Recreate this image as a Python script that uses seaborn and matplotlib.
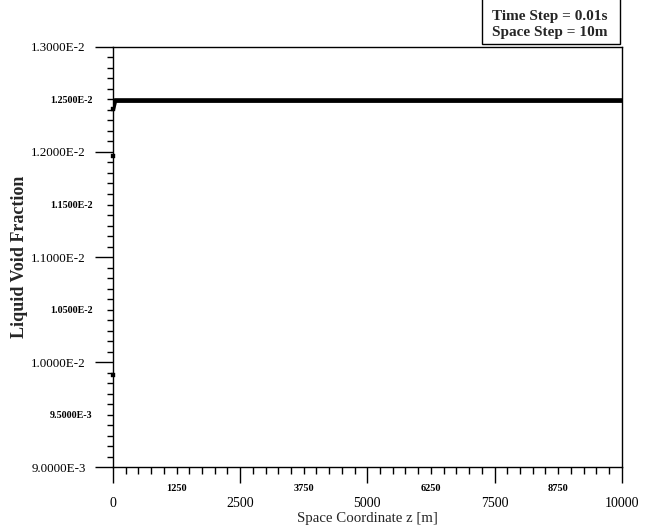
import matplotlib
matplotlib.use("Agg")
import matplotlib.pyplot as plt
import seaborn as sns
import pandas as pd
import numpy as np
from matplotlib.ticker import FixedLocator, FuncFormatter
from matplotlib.patches import Rectangle

sns.set_theme(style="white")
plt.rcParams['font.family'] = ['Liberation Serif', 'DejaVu Serif']

# Data
z_line = [0, 40, 10000]
frac_line = [0.01241, 0.01249, 0.01249]
z_pts = [0, 0, 0]
frac_pts = [0.01241, 0.01196, 0.00988]

x_major = [0, 2500, 5000, 7500, 10000]
x_mid_labels = [1250, 3750, 6250, 8750]
y_major = [0.009, 0.010, 0.011, 0.012, 0.013]
y_mid_labels = [0.0095, 0.0105, 0.0115, 0.0125]
y_label_text = {0.009: "9.0000E-3", 0.0095: "9.5000E-3", 0.010: "1.0000E-2",
                0.0105: "1.0500E-2", 0.011: "1.1000E-2", 0.0115: "1.1500E-2",
                0.012: "1.2000E-2", 0.0125: "1.2500E-2", 0.013: "1.3000E-2"}

fig = plt.figure(figsize=(6.49, 5.28), dpi=100)
ax = fig.add_axes([0.174, 0.1155, 0.784, 0.7955])

df = pd.DataFrame({"z": z_line, "f": frac_line})
sns.lineplot(data=df, x="z", y="f", ax=ax, color="black", linewidth=3.4)
dp = pd.DataFrame({"z": z_pts, "f": frac_pts})
sns.scatterplot(data=dp, x="z", y="f", ax=ax, color="black", s=10, marker="s",
                edgecolor="black", clip_on=False, zorder=5)

ax.set_xlim(0, 10000)
ax.set_ylim(0.009, 0.013)

for s in ax.spines.values():
    s.set_color("black")
    s.set_linewidth(1.0)

# X ticks
ax.xaxis.set_major_locator(FixedLocator(x_major))
ax.xaxis.set_minor_locator(FixedLocator([v for v in np.arange(0, 10001, 250) if v not in x_major]))
ax.xaxis.set_major_formatter(FuncFormatter(lambda v, p: f"{int(round(v))}"))
ax.xaxis.set_minor_formatter(FuncFormatter(lambda v, p: f"{int(round(v))}" if int(round(v)) in x_mid_labels else ""))
ax.tick_params(axis="x", which="major", direction="out", length=11.5, width=1.0,
               pad=10.3, labelsize=10, bottom=True, colors="black")
ax.tick_params(axis="x", which="minor", direction="out", length=5, width=1.0,
               pad=7.5, labelsize=7.5, bottom=True, colors="black")

# Y ticks
ax.yaxis.set_major_locator(FixedLocator(y_major))
ax.yaxis.set_minor_locator(FixedLocator([round(v, 5) for v in np.arange(0.009, 0.01301, 0.0001)
                                         if min(abs(v - m) for m in y_major) > 1e-6]))
ax.yaxis.set_major_formatter(FuncFormatter(lambda v, p: y_label_text.get(round(v, 5), "")))
ax.yaxis.set_minor_formatter(FuncFormatter(lambda v, p: y_label_text.get(round(v, 5), "")
                                           if round(v, 5) in y_mid_labels else ""))
ax.tick_params(axis="y", which="major", direction="out", length=13, width=1.0,
               pad=6.5, labelsize=9.4, left=True, colors="black")
ax.tick_params(axis="y", which="minor", direction="out", length=4, width=1.0,
               pad=10.5, labelsize=7.2, left=True, colors="black")
for lab in ax.get_xticklabels(which="minor") + ax.get_yticklabels(which="minor"):
    lab.set_fontweight("bold")

ax.set_xlabel("Space Coordinate z [m]", fontsize=10.7, labelpad=1.5)
ax.set_ylabel("Liquid Void Fraction", fontsize=13, fontweight="bold", labelpad=2)

# Annotation box in the top right corner
fig.patches.append(Rectangle((0.7427, 0.9167), 0.2126, 0.09, transform=fig.transFigure,
                             facecolor="white", edgecolor="black", linewidth=1.0, zorder=3))
fig.text(0.758, 0.9536, "Time Step = 0.01s\nSpace Step = 10m",
         ha="left", va="center", fontsize=11, fontweight="bold", linespacing=1.32, zorder=4)

fig.savefig("out.png", dpi=100)
